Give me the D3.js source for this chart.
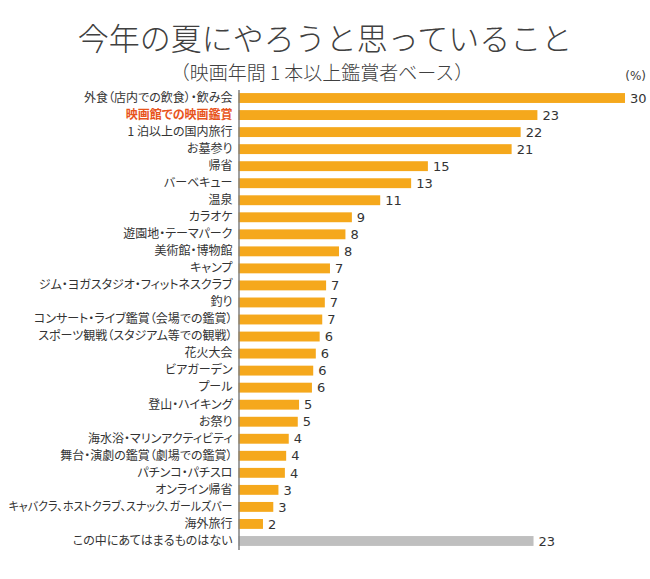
<!DOCTYPE html>
<html><head><meta charset="utf-8">
<script src="https://cdn.jsdelivr.net/npm/d3@7"></script>
<style>
body{margin:0;background:#fff;}
svg{font-family:"Noto Sans CJK JP","Noto Sans",sans-serif;}
.lbl{font-feature-settings:"palt";font-family:"Noto Sans CJK JP",sans-serif;}
</style></head>
<body><svg id="c" width="650" height="579"></svg>
<script>
const categories = ["外食（店内での飲食）・飲み会","映画館での映画鑑賞","1 泊以上の国内旅行","お墓参り","帰省","バーベキュー","温泉","カラオケ","遊園地・テーマパーク","美術館・博物館","キャンプ","ジム・ヨガスタジオ・フィットネスクラブ","釣り","コンサート・ライブ鑑賞（会場での鑑賞）","スポーツ観戦（スタジアム等での観戦）","花火大会","ビアガーデン","プール","登山・ハイキング","お祭り","海水浴・マリンアクティビティ","舞台・演劇の鑑賞（劇場での鑑賞）","パチンコ・パチスロ","オンライン帰省","キャバクラ、ホストクラブ、スナック、ガールズバー","海外旅行","この中にあてはまるものはない"];
const values = [30.0,23.2,21.9,21.2,14.7,13.4,11.0,8.8,8.3,7.8,7.1,6.8,6.7,6.5,6.3,6.0,5.8,5.7,4.7,4.6,3.9,3.7,3.6,3.1,2.7,1.9,22.9];
const highlight = "映画館での映画鑑賞";
const noneCategory = "この中にあてはまるものはない";
const title = "今年の夏にやろうと思っていること";
const subtitle = "（映画年間 1 本以上鑑賞者ベース）";
const unit = "(%)";

const svg = d3.select("#c");
const x = d3.scaleLinear().domain([0,30]).range([238.5,625]);
const y = d3.scaleBand().domain(categories).range([89.5,549.5]).paddingInner(0.42).paddingOuter(0.21);

svg.append("text").attr("x",325).attr("y",50).attr("text-anchor","middle")
  .attr("font-size",31).attr("font-weight",300).attr("fill","#404040").text(title);
svg.append("text").attr("x",322).attr("y",80).attr("text-anchor","middle")
  .attr("font-size",19).attr("font-weight",300).attr("fill","#404040").text(subtitle);
svg.append("text").attr("x",646).attr("y",80).attr("text-anchor","end")
  .attr("font-family","DejaVu Sans").attr("font-size",12).attr("fill","#404040").text(unit);

svg.selectAll("rect.bar").data(categories).join("rect").attr("class","bar")
  .attr("x",x(0)).attr("y",d=>y(d))
  .attr("width",(d,i)=>x(values[i])-x(0)).attr("height",y.bandwidth())
  .attr("fill",d=>d===noneCategory?"#bfbfbf":"#f5a81c");

svg.selectAll("text.val").data(categories).join("text").attr("class","val")
  .attr("x",(d,i)=>x(values[i])+5).attr("y",d=>y(d)+y.bandwidth()/2).attr("dy","0.36em")
  .attr("font-family","DejaVu Sans").attr("font-size",13).attr("fill","#333")
  .text((d,i)=>Math.round(values[i]));

const ax = svg.append("g").attr("transform",`translate(${x(0)},0)`)
  .call(d3.axisLeft(y).tickSize(0).tickPadding(6));
ax.attr("font-family",null).attr("font-size",null);
ax.select(".domain").attr("stroke","#808080").attr("stroke-width",1.5);
ax.selectAll(".tick text").attr("class","lbl").attr("font-size",12)
  .attr("fill",d=>d===highlight?"#e8541c":"#333")
  .attr("font-weight",d=>d===highlight?"bold":null)
  .each(function(){
    const w = this.getComputedTextLength();
    if (w > 224) d3.select(this).attr("textLength",224).attr("lengthAdjust","spacingAndGlyphs");
  });
</script></body></html>
